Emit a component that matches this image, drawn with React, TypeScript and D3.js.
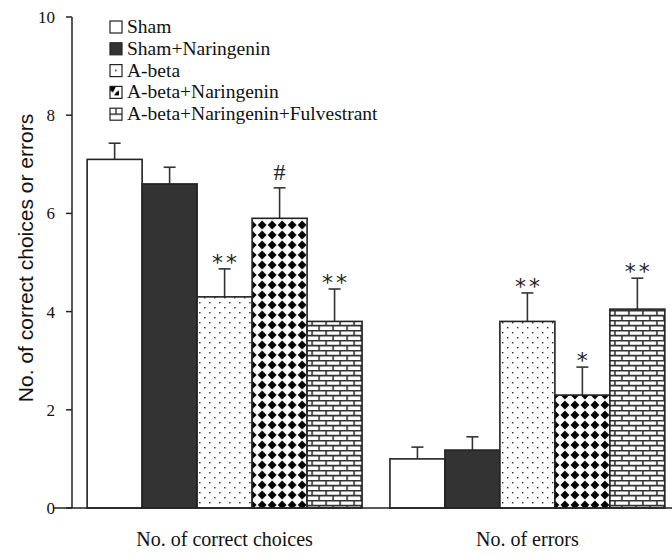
import React from "react";
import * as d3 from "d3";

const groups = ["No. of correct choices", "No. of errors"];
const series = ["Sham", "Sham+Naringenin", "A-beta", "A-beta+Naringenin", "A-beta+Naringenin+Fulvestrant"];
const correctMeans = [7.1, 6.6, 4.3, 5.9, 3.8];
const correctErr = [0.33, 0.34, 0.57, 0.62, 0.66];
const errorsMeans = [1.0, 1.18, 3.8, 2.3, 4.05];
const errorsErr = [0.24, 0.27, 0.58, 0.57, 0.63];
const correctMarks = ["", "", "**", "#", "**"];
const errorsMarks = ["", "", "**", "*", "**"];
const yTicks = [0, 2, 4, 6, 8, 10];

const fills = ["#ffffff", "#333333", "url(#dots)", "url(#diam)", "url(#brick)"];
const legendFills = ["#ffffff", "#333333", "url(#ldots)", "url(#ldiam)", "url(#lbrick)"];

export default function App() {
  const W = 672, H = 557;
  const y = d3.scaleLinear().domain([0, 10]).range([508, 17]);
  const x0 = d3.scaleBand<string>().domain(groups).range([72, 680]).paddingInner(0.092).paddingOuter(0.05);
  const x1 = d3.scaleBand<string>().domain(series).range([0, x0.bandwidth()]).padding(0);
  const data = [
    { g: groups[0], m: correctMeans, e: correctErr, s: correctMarks },
    { g: groups[1], m: errorsMeans, e: errorsErr, s: errorsMarks },
  ];
  const serif = "'Liberation Serif', 'Times New Roman', serif";
  return (
    <svg width={W} height={H} style={{ position: "absolute", left: 0, top: 0, background: "#fff" }}>
      <defs>
        <pattern id="dots" patternUnits="userSpaceOnUse" width="10" height="10">
          <rect width="10" height="10" fill="#fff" />
          <rect x="2" y="2" width="1.4" height="1.4" fill="#222" />
          <rect x="7" y="7" width="1.4" height="1.4" fill="#222" />
        </pattern>
        <pattern id="diam" patternUnits="userSpaceOnUse" width="10" height="10">
          <rect width="10" height="10" fill="#fff" />
          <path d="M5,0.6 L9.4,5 L5,9.4 L0.6,5 Z" fill="#000" />
        </pattern>
        <pattern id="brick" patternUnits="userSpaceOnUse" width="14" height="10">
          <rect width="14" height="10" fill="#fff" />
          <path d="M0,0.6 H14 M0,5.6 H14 M1,0 V5 M8,5 V10" stroke="#333" strokeWidth="1.6" fill="none" />
        </pattern>
        <pattern id="ldots" patternUnits="userSpaceOnUse" width="12" height="12">
          <rect width="12" height="12" fill="#fff" />
          <rect x="5" y="5" width="1.5" height="1.5" fill="#222" />
        </pattern>
        <pattern id="ldiam" patternUnits="userSpaceOnUse" width="12" height="12">
          <rect width="12" height="12" fill="#fff" />
          <path d="M0,0 H6 L3,6 L0,4 Z M6,6 L9,4 L9,9 L4,9 Z" fill="#000" />
        </pattern>
        <pattern id="lbrick" patternUnits="userSpaceOnUse" width="12" height="12">
          <rect width="12" height="12" fill="#fff" />
          <path d="M0,6 H12 M6,0 V6" stroke="#333" strokeWidth="1.4" fill="none" />
        </pattern>
      </defs>

      {/* bars */}
      {data.map((d) => (
        <g key={d.g} transform={`translate(${x0(d.g)},0)`}>
          {series.map((s, i) => {
            const bx = x1(s)!;
            const bw = x1.bandwidth();
            const top = y(d.m[i]);
            const et = y(d.m[i] + d.e[i]);
            const cx = bx + bw / 2;
            const mk = d.s[i];
            return (
              <g key={s}>
                <line x1={cx} x2={cx} y1={top} y2={et} stroke="#333" strokeWidth={1.6} />
                <line x1={cx - 6} x2={cx + 6} y1={et} y2={et} stroke="#333" strokeWidth={1.6} />
                <rect x={bx} y={top} width={bw} height={y(0) - top} fill={fills[i]} stroke="#222" strokeWidth={1.6} />
                {mk && (
                  <text
                    x={cx}
                    y={mk === "#" ? et - 8 : et + 1}
                    textAnchor="middle"
                    fontFamily={mk === "#" ? serif : "'DejaVu Sans', sans-serif"}
                    fontSize={mk === "#" ? 24 : 22}
                    letterSpacing={mk === "**" ? 3 : 0}
                    dx={mk === "**" ? 1.5 : 0}
                    fill="#222"
                  >
                    {mk}
                  </text>
                )}
              </g>
            );
          })}
        </g>
      ))}

      {/* axes */}
      <line x1={72} x2={72} y1={y(10)} y2={y(0)} stroke="#222" strokeWidth={1.5} />
      <line x1={54} x2={672} y1={y(0)} y2={y(0)} stroke="#222" strokeWidth={1.5} />
      {yTicks.map((t) => (
        <g key={t}>
          <line x1={66} x2={72} y1={y(t)} y2={y(t)} stroke="#222" strokeWidth={1.5} />
          <text x={55} y={y(t)} dy="0.35em" textAnchor="end" fontFamily={serif} fontSize={17} fill="#111">
            {t}
          </text>
        </g>
      ))}
      {groups.map((g) => (
        <text key={g} x={x0(g)! + x0.bandwidth() / 2} y={546} textAnchor="middle" fontFamily={serif} fontSize={20} fill="#111">
          {g}
        </text>
      ))}
      <text
        transform={`translate(33,258) rotate(-90)`}
        textAnchor="middle"
        fontFamily="'Liberation Sans', Arial, sans-serif"
        fontSize={21}
        fill="#111"
      >
        No. of correct choices or errors
      </text>

      {/* legend */}
      {series.map((s, i) => (
        <g key={s} transform={`translate(110,${21 + i * 21.8})`}>
          <rect x={0} y={0} width={12} height={12} fill={legendFills[i]} stroke="#222" strokeWidth={1.2} />
          <text x={17} y={12} fontFamily={serif} fontSize={19.5} fill="#111">
            {s}
          </text>
        </g>
      ))}
    </svg>
  );
}
